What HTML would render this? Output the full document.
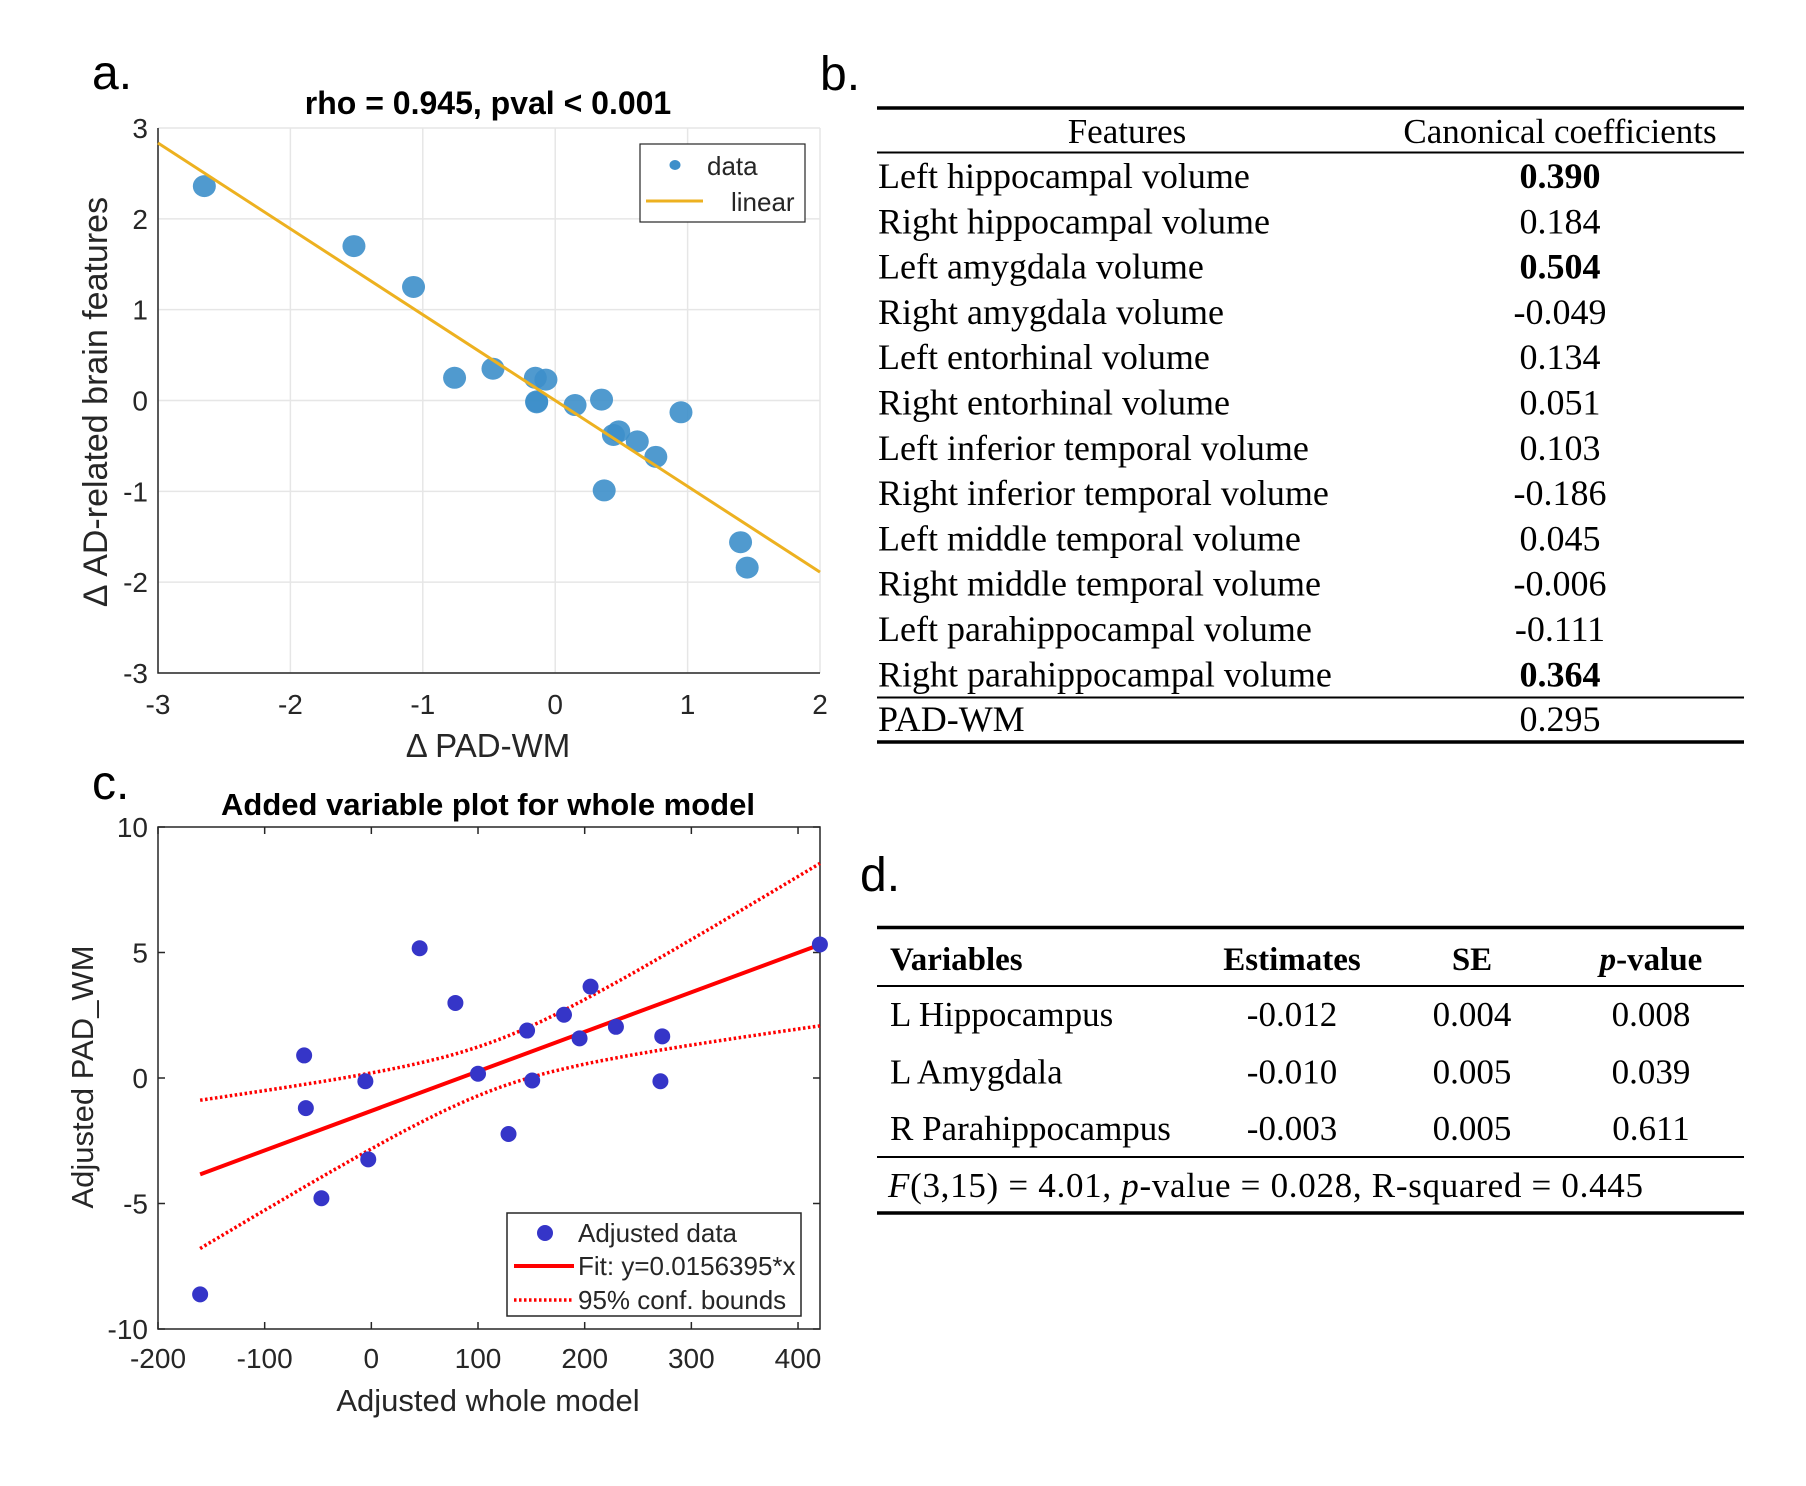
<!DOCTYPE html>
<html><head><meta charset="utf-8"><style>
body{margin:0;background:#fff}
svg{display:block}
.s{font-family:"Liberation Sans",Arial,sans-serif}
.t{font-family:"Liberation Serif","Times New Roman",serif}
</style></head><body>
<svg id="fig" width="1806" height="1486" viewBox="0 0 1806 1486" xmlns="http://www.w3.org/2000/svg">
<g id="pa"></g>
<g id="pc"></g>
<g id="tb"></g>
<g id="td"></g>
</svg>
<script>
// ---- Panel a data ----
const aX = [-2.65,-1.52,-1.07,-0.76,-0.47,-0.15,-0.07,-0.14,-0.14,0.15,0.35,0.95,0.44,0.48,0.62,0.76,0.37,1.40,1.45];
const aY = [2.36,1.70,1.25,0.25,0.35,0.25,0.23,-0.02,-0.01,-0.05,0.01,-0.13,-0.38,-0.34,-0.45,-0.62,-0.99,-1.56,-1.84];
const aXTicks = [-3,-2,-1,0,1,2];
const aYTicks = [-3,-2,-1,0,1,2,3];
const aFit = [-0.945, 0.0]; // slope, intercept
// ---- Panel c data ----
const cX = [-160.5,-63,-61.4,-46.8,-5.6,-2.9,45.3,78.8,100,128.6,146,150.8,180.6,195.2,205.5,229.3,272.7,271,420.5];
const cY = [-8.62,0.90,-1.20,-4.79,-0.13,-3.24,5.17,2.99,0.17,-2.23,1.89,-0.10,2.52,1.58,3.64,2.04,1.66,-0.13,5.32];
const cXTicks = [-200,-100,0,100,200,300,400];
const cYTicks = [-10,-5,0,5,10];
const cFit = [0.01575, -1.31];
const cBand = [0.92, 1.026e-4, 115.4]; // a, b, center
// ---- Table b ----
const bFeatures = ["Left hippocampal volume","Right hippocampal volume","Left amygdala volume","Right amygdala volume","Left entorhinal volume","Right entorhinal volume","Left inferior temporal volume","Right inferior temporal volume","Left middle temporal volume","Right middle temporal volume","Left parahippocampal volume","Right parahippocampal volume"];
const bCoefs = ["0.390","0.184","0.504","-0.049","0.134","0.051","0.103","-0.186","0.045","-0.006","-0.111","0.364"];
const bBold = [true,false,true,false,false,false,false,false,false,false,false,true];
// ---- Table d ----
const dVars = ["L Hippocampus","L Amygdala","R Parahippocampus"];
const dEst = ["-0.012","-0.010","-0.003"];
const dSE = ["0.004","0.005","0.005"];
const dP = ["0.008","0.039","0.611"];

const NS="http://www.w3.org/2000/svg";
function mk(parent,tag,attrs,text){const e=document.createElementNS(NS,tag);for(const k in attrs)e.setAttribute(k,attrs[k]);if(text!==undefined)e.textContent=text;parent.appendChild(e);return e;}

// ===== Panel a =====
(function(){
const g=document.getElementById('pa');
const L=158,R=820,T=128,B=673;
const sx=v=>L+(v+3)/5*(R-L), sy=v=>B-(v+3)/6*(B-T);
let e;
e=mk(g,'text',{x:92,y:89,class:'s','font-size':48});e.textContent='a.';


aXTicks.forEach(v=>{
 e=mk(g,'line',{x1:sx(v),x2:sx(v),y1:T,y2:B,stroke:'#e6e6e6','stroke-width':1.5});
 
 
 e=mk(g,'text',{x:sx(v),y:714,'text-anchor':'middle',class:'s','font-size':28,fill:'#262626'},String(v));
 
 
});
aYTicks.forEach(v=>{
 e=mk(g,'line',{x1:L,x2:R,y1:sy(v),y2:sy(v),stroke:'#e6e6e6','stroke-width':1.5});
 
 
 e=mk(g,'text',{x:148,y:sy(v)+10,'text-anchor':'end',class:'s','font-size':28,fill:'#262626'},String(v));
 
 
});
e=mk(g,'path',{d:`M${L},${T}V${B}H${R}`,stroke:'#262626','stroke-width':1.5,fill:'none'});


aX.forEach((x,i)=>{
 e=mk(g,'ellipse',{cx:sx(x),cy:sy(aY[i]),rx:11.5,ry:11,fill:'#3d8fca','fill-opacity':0.9});
 
 
});
e=mk(g,'line',{x1:sx(-3),y1:sy(aFit[0]*-3+aFit[1]),x2:sx(2),y2:sy(aFit[0]*2+aFit[1]),stroke:'#edb120','stroke-width':3});


e=mk(g,'text',{x:488,y:114,'text-anchor':'middle',class:'s','font-size':32,'font-weight':'bold'},'rho = 0.945, pval < 0.001');


e=mk(g,'text',{x:488,y:757,'text-anchor':'middle',class:'s','font-size':33,fill:'#262626'},'Δ PAD-WM');


e=mk(g,'text',{x:0,y:0,transform:'translate(107,402) rotate(-90)','text-anchor':'middle',class:'s','font-size':34,fill:'#262626'},'Δ AD-related brain features');


const lg=mk(g,'g',{});


mk(lg,'rect',{x:640,y:144,width:165,height:78,fill:'#fff',stroke:'#262626','stroke-width':1.2});
e=mk(lg,'ellipse',{cx:675,cy:165,rx:5.5,ry:5,fill:'#3d8fca'});


mk(lg,'text',{x:707,y:175,class:'s','font-size':26,fill:'#262626'},'data');
e=mk(lg,'line',{x1:646,x2:703,y1:201,y2:201,stroke:'#edb120','stroke-width':3});


mk(lg,'text',{x:731,y:211,class:'s','font-size':26,fill:'#262626'},'linear');
})();

// ===== Panel c =====
(function(){
const g=document.getElementById('pc');
const L=158,R=820,T=827,B=1329;
const x0=-200,x1=420.6;
const sx=v=>L+(v-x0)/(x1-x0)*(R-L), sy=v=>B-(v+10)/20*(B-T);
let e;
e=mk(g,'text',{x:92,y:799,class:'s','font-size':48});e.textContent='c.';


e=mk(g,'rect',{x:L,y:T,width:R-L,height:B-T,fill:'none',stroke:'#262626','stroke-width':1.5});


cXTicks.forEach(v=>{
 mk(g,'path',{d:`M${sx(v)},${B}v-7M${sx(v)},${T}v7`,stroke:'#262626','stroke-width':1.5});
 e=mk(g,'text',{x:sx(v),y:1368,'text-anchor':'middle',class:'s','font-size':28,fill:'#262626'},String(v));
 
 
});
cYTicks.forEach(v=>{
 mk(g,'path',{d:`M${L},${sy(v)}h7M${R},${sy(v)}h-7`,stroke:'#262626','stroke-width':1.5});
 e=mk(g,'text',{x:148,y:sy(v)+10,'text-anchor':'end',class:'s','font-size':28,fill:'#262626'},String(v));
 
 
});
const xa=-160.5,xb=x1;
const fit=x=>cFit[0]*x+cFit[1];
const hw=x=>Math.sqrt(cBand[0]+cBand[1]*(x-cBand[2])*(x-cBand[2]));
let up='',lo='';
for(let i=0;i<=60;i++){const x=xa+(xb-xa)*i/60;up+=(i?'L':'M')+sx(x).toFixed(1)+','+sy(fit(x)+hw(x)).toFixed(1);lo+=(i?'L':'M')+sx(x).toFixed(1)+','+sy(fit(x)-hw(x)).toFixed(1);}
e=mk(g,'path',{d:up,stroke:'#ff0000','stroke-width':3.5,fill:'none','stroke-dasharray':'2.5 2.5'});


e=mk(g,'path',{d:lo,stroke:'#ff0000','stroke-width':3.5,fill:'none','stroke-dasharray':'2.5 2.5'});


e=mk(g,'line',{x1:sx(xa),y1:sy(fit(xa)),x2:sx(xb),y2:sy(fit(xb)),stroke:'#ff0000','stroke-width':4});


cX.forEach((x,i)=>{
 e=mk(g,'ellipse',{cx:sx(x),cy:sy(cY[i]),rx:8,ry:8,fill:'#3535c8'});
 
 
});
e=mk(g,'text',{x:488,y:815,'text-anchor':'middle',class:'s','font-size':31,'font-weight':'bold'},'Added variable plot for whole model');


e=mk(g,'text',{x:488,y:1411,'text-anchor':'middle',class:'s','font-size':31,fill:'#262626'},'Adjusted whole model');


e=mk(g,'text',{x:0,y:0,transform:'translate(93,1077) rotate(-90)','text-anchor':'middle',class:'s','font-size':31,fill:'#262626'},'Adjusted PAD_WM');


const lg=mk(g,'g',{});


mk(lg,'rect',{x:507,y:1213,width:294,height:103,fill:'#fff',stroke:'#262626','stroke-width':1.5});
mk(lg,'ellipse',{cx:545,cy:1233,rx:8,ry:8,fill:'#3535c8'});
mk(lg,'text',{x:578,y:1242,class:'s','font-size':26,fill:'#262626'},'Adjusted data');
mk(lg,'line',{x1:514,x2:574,y1:1266,y2:1266,stroke:'#ff0000','stroke-width':4});
mk(lg,'text',{x:578,y:1275,class:'s','font-size':26,fill:'#262626'},'Fit: y=0.0156395*x');
mk(lg,'line',{x1:514,x2:574,y1:1300,y2:1300,stroke:'#ff0000','stroke-width':3.5,'stroke-dasharray':'2.5 2.5'});
mk(lg,'text',{x:578,y:1309,class:'s','font-size':26,fill:'#262626'},'95% conf. bounds');
})();

// ===== Table b =====
(function(){
const g=document.getElementById('tb');
const L=877,R=1744;
let e;
e=mk(g,'text',{x:820,y:90,class:'s','font-size':48},'b.');


mk(g,'line',{x1:L,x2:R,y1:108,y2:108,stroke:'#000','stroke-width':3.5});
mk(g,'line',{x1:L,x2:R,y1:152.5,y2:152.5,stroke:'#000','stroke-width':2});
mk(g,'line',{x1:L,x2:R,y1:697.5,y2:697.5,stroke:'#000','stroke-width':2});
mk(g,'line',{x1:L,x2:R,y1:742,y2:742,stroke:'#000','stroke-width':3.5});
e=mk(g,'text',{x:1127,y:143,'text-anchor':'middle',class:'t','font-size':35},'Features');


e=mk(g,'text',{x:1560,y:143,'text-anchor':'middle',class:'t','font-size':35},'Canonical coefficients');


bFeatures.forEach((f,i)=>{
 const y=177+i*45.3+11;
 e=mk(g,'text',{x:878,y:y,class:'t','font-size':36},f);
 
 
 e=mk(g,'text',{x:1560,y:y,'text-anchor':'middle',class:'t','font-size':36,'font-weight':bBold[i]?'bold':'normal'},bCoefs[i]);
 
 
});
mk(g,'text',{x:878,y:731,class:'t','font-size':36},'PAD-WM');
mk(g,'text',{x:1560,y:731,'text-anchor':'middle',class:'t','font-size':36},'0.295');
})();

// ===== Table d =====
(function(){
const g=document.getElementById('td');
const L=877,R=1744;
let e;
e=mk(g,'text',{x:860,y:891,class:'s','font-size':48},'d.');


mk(g,'line',{x1:L,x2:R,y1:927.5,y2:927.5,stroke:'#000','stroke-width':3.5});
mk(g,'line',{x1:L,x2:R,y1:986,y2:986,stroke:'#000','stroke-width':2});
mk(g,'line',{x1:L,x2:R,y1:1157,y2:1157,stroke:'#000','stroke-width':2});
mk(g,'line',{x1:L,x2:R,y1:1213,y2:1213,stroke:'#000','stroke-width':3.5});
const cx=[1292,1472,1651];
mk(g,'text',{x:890,y:970,class:'t','font-size':33,'font-weight':'bold'},'Variables');
mk(g,'text',{x:cx[0],y:970,'text-anchor':'middle',class:'t','font-size':33,'font-weight':'bold'},'Estimates');
mk(g,'text',{x:cx[1],y:970,'text-anchor':'middle',class:'t','font-size':33,'font-weight':'bold'},'SE');
const ph=mk(g,'text',{x:cx[2],y:970,'text-anchor':'middle',class:'t','font-size':33,'font-weight':'bold'});
mk(ph,'tspan',{'font-style':'italic'},'p');mk(ph,'tspan',{},'-value');
const rows=[1015,1072.5,1129];
dVars.forEach((v,i)=>{
 const y=rows[i]+11;
 e=mk(g,'text',{x:890,y:y,class:'t','font-size':35},v);
 
 
 mk(g,'text',{x:cx[0],y:y,'text-anchor':'middle',class:'t','font-size':35},dEst[i]);
 mk(g,'text',{x:cx[1],y:y,'text-anchor':'middle',class:'t','font-size':35},dSE[i]);
 mk(g,'text',{x:cx[2],y:y,'text-anchor':'middle',class:'t','font-size':35},dP[i]);
});
const ft=mk(g,'text',{x:888,y:1197,class:'t','font-size':35,textLength:755,lengthAdjust:'spacing'});


mk(ft,'tspan',{'font-style':'italic'},'F');
mk(ft,'tspan',{},'(3,15) = 4.01, ');
mk(ft,'tspan',{'font-style':'italic'},'p');
mk(ft,'tspan',{},'-value = 0.028, R-squared = 0.445');
})();
</script>
</body></html>
